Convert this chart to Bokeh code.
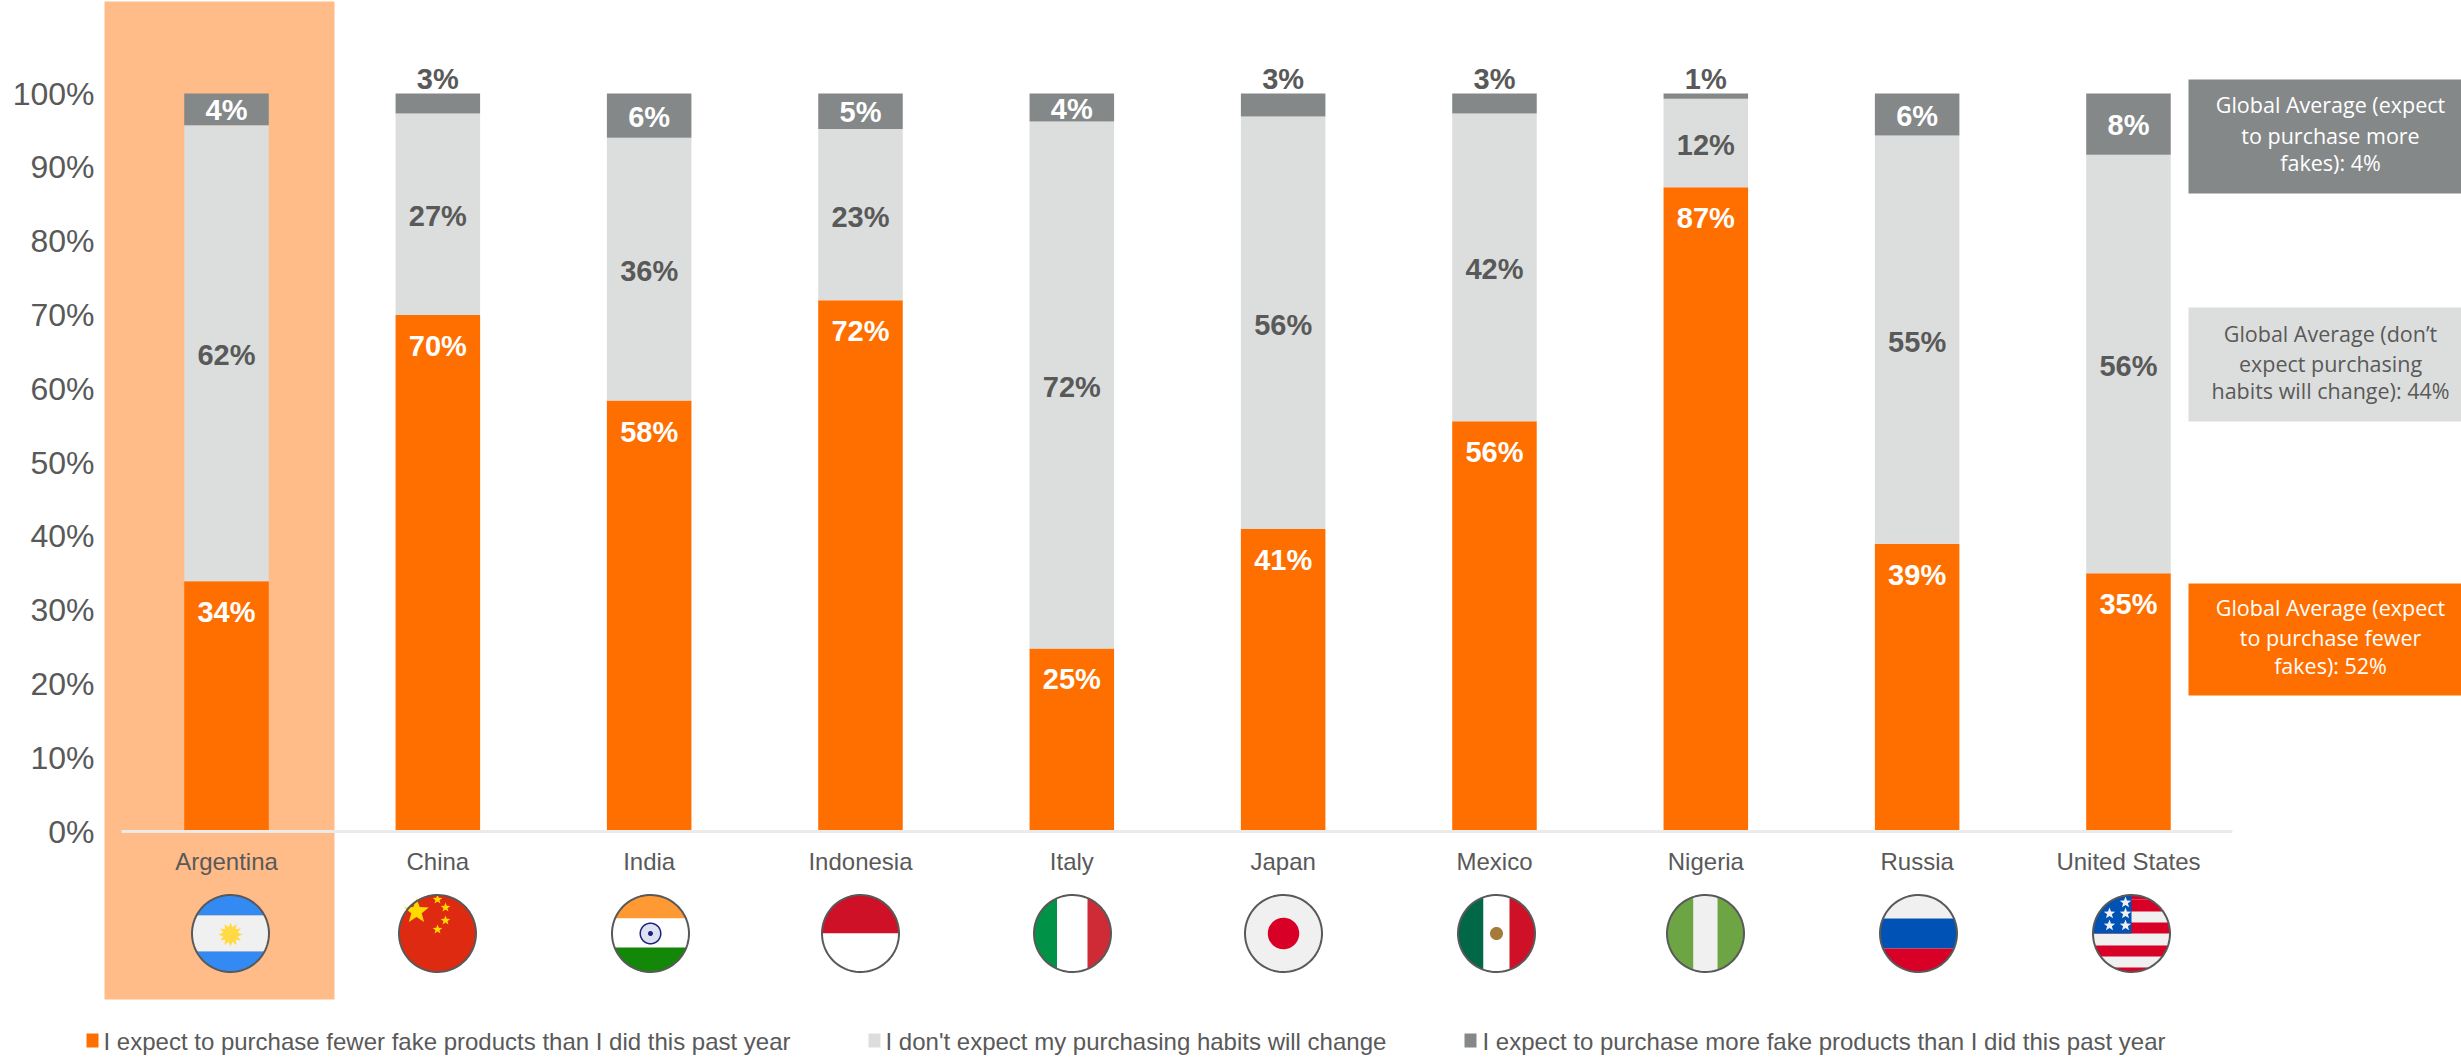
import numpy as np
from bokeh.core.properties import value
from bokeh.embed import file_html
from bokeh.models import ColumnDataSource, FixedTicker, LinearAxis, Range1d
from bokeh.plotting import figure
from bokeh.resources import INLINE

countries = ["Argentina", "China", "India", "Indonesia", "Italy", "Japan", "Mexico", "Nigeria", "Russia", "United States"]
fewer = [33.9, 70.0, 58.4, 72.0, 24.8, 41.0, 55.6, 87.3, 39.0, 35.0]
same = [61.8, 27.3, 35.6, 23.2, 71.4, 55.9, 41.7, 12.0, 55.3, 56.7]
more = [4.3, 2.7, 6.0, 4.8, 3.8, 3.1, 2.7, 0.7, 5.7, 8.3]
fewer_labels = ["34%", "70%", "58%", "72%", "25%", "41%", "56%", "87%", "39%", "35%"]
same_labels = ["62%", "27%", "36%", "23%", "72%", "56%", "42%", "12%", "55%", "56%"]
more_labels = ["4%", "3%", "6%", "5%", "4%", "3%", "3%", "1%", "6%", "8%"]
y_ticks = [0, 10, 20, 30, 40, 50, 60, 70, 80, 90, 100]
legend_names = [
    "I expect to purchase fewer fake products than I did this past year",
    "I don't expect my purchasing habits will change",
    "I expect to purchase more fake products than I did this past year",
]
note_more = ["Global Average (expect", "to purchase more", "fakes): 4%"]
note_same = ["Global Average (don\u2019t", "expect purchasing", "habits will change): 44%"]
note_fewer = ["Global Average (expect", "to purchase fewer", "fakes): 52%"]

ORANGE = "#ff6f00"
LIGHT = "#dcdedd"
DARK = "#858889"
TEXT = "#595959"
HILITE = "#ffbb88"
FONT = "Liberation Sans"

# page-pixel <-> data helpers (layout only)
X0, DX, Y0, DY = 226.0, 211.33, 831.0, 7.38
WIDTH, HEIGHT = 2461, 1057


def fx(px):
    return (np.asarray(px, dtype=float) - X0) / DX


def fy(py):
    return (Y0 - np.asarray(py, dtype=float)) / DY


p = figure(
    width=WIDTH, height=HEIGHT, output_backend="svg", toolbar_location=None,
    x_range=Range1d(float(fx(0)), float(fx(WIDTH))),
    y_range=Range1d(float(fy(HEIGHT)), float(fy(0))),
    x_axis_location=None, y_axis_location=None, min_border_left=0, min_border_right=0,
    min_border_top=0, min_border_bottom=0, outline_line_color=None,
)
p.grid.visible = False

# highlight band behind Argentina
p.quad(left=float(fx(104)), right=float(fx(334)), top=float(fy(1)), bottom=float(fy(999)),
       fill_color=HILITE, line_color=None)

# y axis
yaxis = LinearAxis(fixed_location=float(fx(100)))
yaxis.ticker = FixedTicker(ticks=y_ticks)
yaxis.major_label_overrides = {t: f"{t}%" for t in y_ticks}
yaxis.major_label_text_font = FONT
yaxis.major_label_text_font_size = "32px"
yaxis.major_label_text_color = TEXT
yaxis.major_tick_line_color = None
yaxis.minor_tick_line_color = None
yaxis.axis_line_color = None
yaxis.major_label_standoff = 0
yaxis.bounds = (0, 100)
p.add_layout(yaxis, "left")

# stacked bars
idx = list(range(len(countries)))
src = ColumnDataSource(dict(x=idx, fewer=fewer, same=same, more=more))
p.vbar_stack(["fewer", "same", "more"], x="x", width=0.4, source=src,
             color=[ORANGE, LIGHT, DARK], line_color=None)

# x axis at zero
xaxis = LinearAxis(fixed_location=0)
xaxis.ticker = FixedTicker(ticks=idx)
xaxis.major_label_overrides = {i: c for i, c in enumerate(countries)}
xaxis.major_label_text_font = FONT
xaxis.major_label_text_font_size = "24px"
xaxis.major_label_text_color = TEXT
xaxis.major_tick_line_color = None
xaxis.minor_tick_line_color = None
xaxis.axis_line_color = "#ebebeb"
xaxis.axis_line_width = 3
xaxis.major_label_standoff = 10
xaxis.bounds = (float(fx(121)), float(fx(2232)))
p.add_layout(xaxis, "below")

# data labels
fewer_y = list(fewer)
same_y = [f + s / 2 for f, s in zip(fewer, same)]
more_y, more_off, more_col = [], [], []
for f, s, m, lab in zip(fewer, same, more, more_labels):
    if m < 3.5:
        more_y.append(f + s + m)
        more_off.append(-15)
        more_col.append(TEXT)
    else:
        more_y.append(f + s + m / 2)
        more_off.append(1)
        more_col.append("#ffffff")

lab_kw = dict(text_font=value(FONT), text_font_style="bold", text_font_size="29px",
              text_align="center", text_baseline="middle")
p.text(x=idx, y=fewer_y, text=fewer_labels, y_offset=31, text_color="#ffffff", **lab_kw)
p.text(x=idx, y=same_y, text=same_labels, y_offset=2, text_color=TEXT, **lab_kw)
p.text(x=idx, y=more_y, text=more_labels, y_offset=more_off, text_color=more_col, **lab_kw)

# right-hand notes
boxes = [(79, 193, DARK, note_more, "#ffffff", (104, 135, 162)),
         (307, 421, LIGHT, note_same, TEXT, (333, 363, 390)),
         (583, 695, ORANGE, note_fewer, "#ffffff", (607, 637, 665))]
for top, bot, col, lines, tcol, ys in boxes:
    p.quad(left=float(fx(2188)), right=float(fx(2461)), top=float(fy(top)), bottom=float(fy(bot)),
           fill_color=col, line_color=None)
    p.text(x=[float(fx(2330))] * 3, y=[float(fy(v)) for v in ys], text=lines, text_color=tcol,
           text_font=value("Open Sans"), text_font_size="21.5px", text_align="center", text_baseline="middle")

# legend
leg_sq = [(86, ORANGE, 103), (868, LIGHT, 885), (1464, DARK, 1482)]
for (sx, col, tx), name in zip(leg_sq, legend_names):
    p.quad(left=float(fx(sx)), right=float(fx(sx + 12)), top=float(fy(1033)), bottom=float(fy(1047)),
           fill_color=col, line_color=None)
    p.text(x=[float(fx(tx))], y=[float(fy(1041))], text=[name], text_color=TEXT,
           text_font=value(FONT), text_font_size="24px", text_align="left", text_baseline="middle")

# flags
R = 38.5
CY = 933.0
fxs, fys, fcs = [], [], []


def add(xs, ys, color):
    fxs.append(list(fx(xs)))
    fys.append(list(fy(ys)))
    fcs.append(color)


def disc(cx, r=R, color="#f0f0f0", cy=CY):
    t = np.linspace(0, 2 * np.pi, 90)
    add(cx + r * np.cos(t), cy + r * np.sin(t), color)


def hband(cx, a, b, color):
    t = np.linspace(np.arcsin(max(a / R, -1)), np.arcsin(min(b / R, 1)), 40)
    yy = R * np.sin(t)
    xr = R * np.cos(t)
    add(np.r_[cx + xr, cx - xr[::-1]], np.r_[CY + yy, CY + yy[::-1]], color)


def vband(cx, a, b, color):
    t = np.linspace(np.arcsin(max(a / R, -1)), np.arcsin(min(b / R, 1)), 40)
    xx = R * np.sin(t)
    yr = R * np.cos(t)
    add(np.r_[cx + xx, cx + xx[::-1]], np.r_[CY + yr, CY - yr[::-1]], color)


def star(cx, cy, r, color, n=5, inner=0.42):
    t = -np.pi / 2 + np.arange(2 * n) * np.pi / n
    rr = np.where(np.arange(2 * n) % 2 == 0, r, r * inner)
    add(cx + rr * np.cos(t), cy + rr * np.sin(t), color)


flag_cx = [230, 437, 650, 860, 1072, 1283, 1496, 1705, 1918, 2131]
W = "#f0f0f0"
# Argentina
c = flag_cx[0]
hband(c, -R, -18, "#338af3"); hband(c, -18, 18, W); hband(c, 18, R, "#338af3")
star(c, CY + 1, 12, "#ffda44", n=12, inner=0.62)
# China
c = flag_cx[1]
disc(c, color="#de2a10")
star(c - 21, CY - 22, 13, "#ffda00")
for dx, dy in [(0, -34), (8, -26), (8, -13), (0, -4)]:
    star(c + dx, CY + dy, 5, "#ffda00")
# India
c = flag_cx[2]
hband(c, -R, -15, "#ff9933"); hband(c, -15, 14, "#ffffff"); hband(c, 14, R, "#138808")
disc(c, r=11, color="#1a237e"); disc(c, r=9.5, color="#dfe1f2"); disc(c, r=2.5, color="#1a237e")
# Indonesia
c = flag_cx[3]
hband(c, -R, 0, "#ce1126"); hband(c, 0, R, "#ffffff")
# Italy
c = flag_cx[4]
vband(c, -R, -15.5, "#009246"); vband(c, -15.5, 15, "#ffffff"); vband(c, 15, R, "#ce2b37")
# Japan
c = flag_cx[5]
disc(c); disc(c, r=15.7, color="#d80027")
# Mexico
c = flag_cx[6]
vband(c, -R, -13, "#006847"); vband(c, -13, 13, "#ffffff"); vband(c, 13, R, "#ce1126")
disc(c, r=6.5, color="#a57a3a")
# Nigeria
c = flag_cx[7]
vband(c, -R, -12, "#6da544"); vband(c, -12, 12, W); vband(c, 12, R, "#6da544")
# Russia
c = flag_cx[8]
hband(c, -R, -15, W); hband(c, -15, 15, "#0052b4"); hband(c, 15, R, "#d80027")
# United States
c = flag_cx[9]
disc(c, color=W)
hband(c, -R, -34, "#d80027"); hband(c, -34, -22, "#d80027"); hband(c, -11, 0, "#d80027")
hband(c, 12, 23, "#d80027"); hband(c, 34, R, "#d80027")
t = np.linspace(np.pi, 1.5 * np.pi, 30)
add(np.r_[c, c - 38.5, c + R * np.cos(t), c], np.r_[CY, CY, CY + R * np.sin(t), CY], "#0052b4")
for dx, dy in [(-6, -31), (-6, -20), (-6, -8), (-22, -20), (-22, -8)]:
    star(c + dx, CY + dy, 6, "#f0f0f0")

p.patches(fxs, fys, fill_color=fcs, line_color=None)

# flag rims
t = np.linspace(0, 2 * np.pi, 90)
rim_x = [list(fx(c + R * np.cos(t))) for c in flag_cx]
rim_y = [list(fy(CY + R * np.sin(t))) for c in flag_cx]
p.multi_line(rim_x, rim_y, line_color="#595959", line_width=2)

open("out.html", "w").write(file_html(p, INLINE))
